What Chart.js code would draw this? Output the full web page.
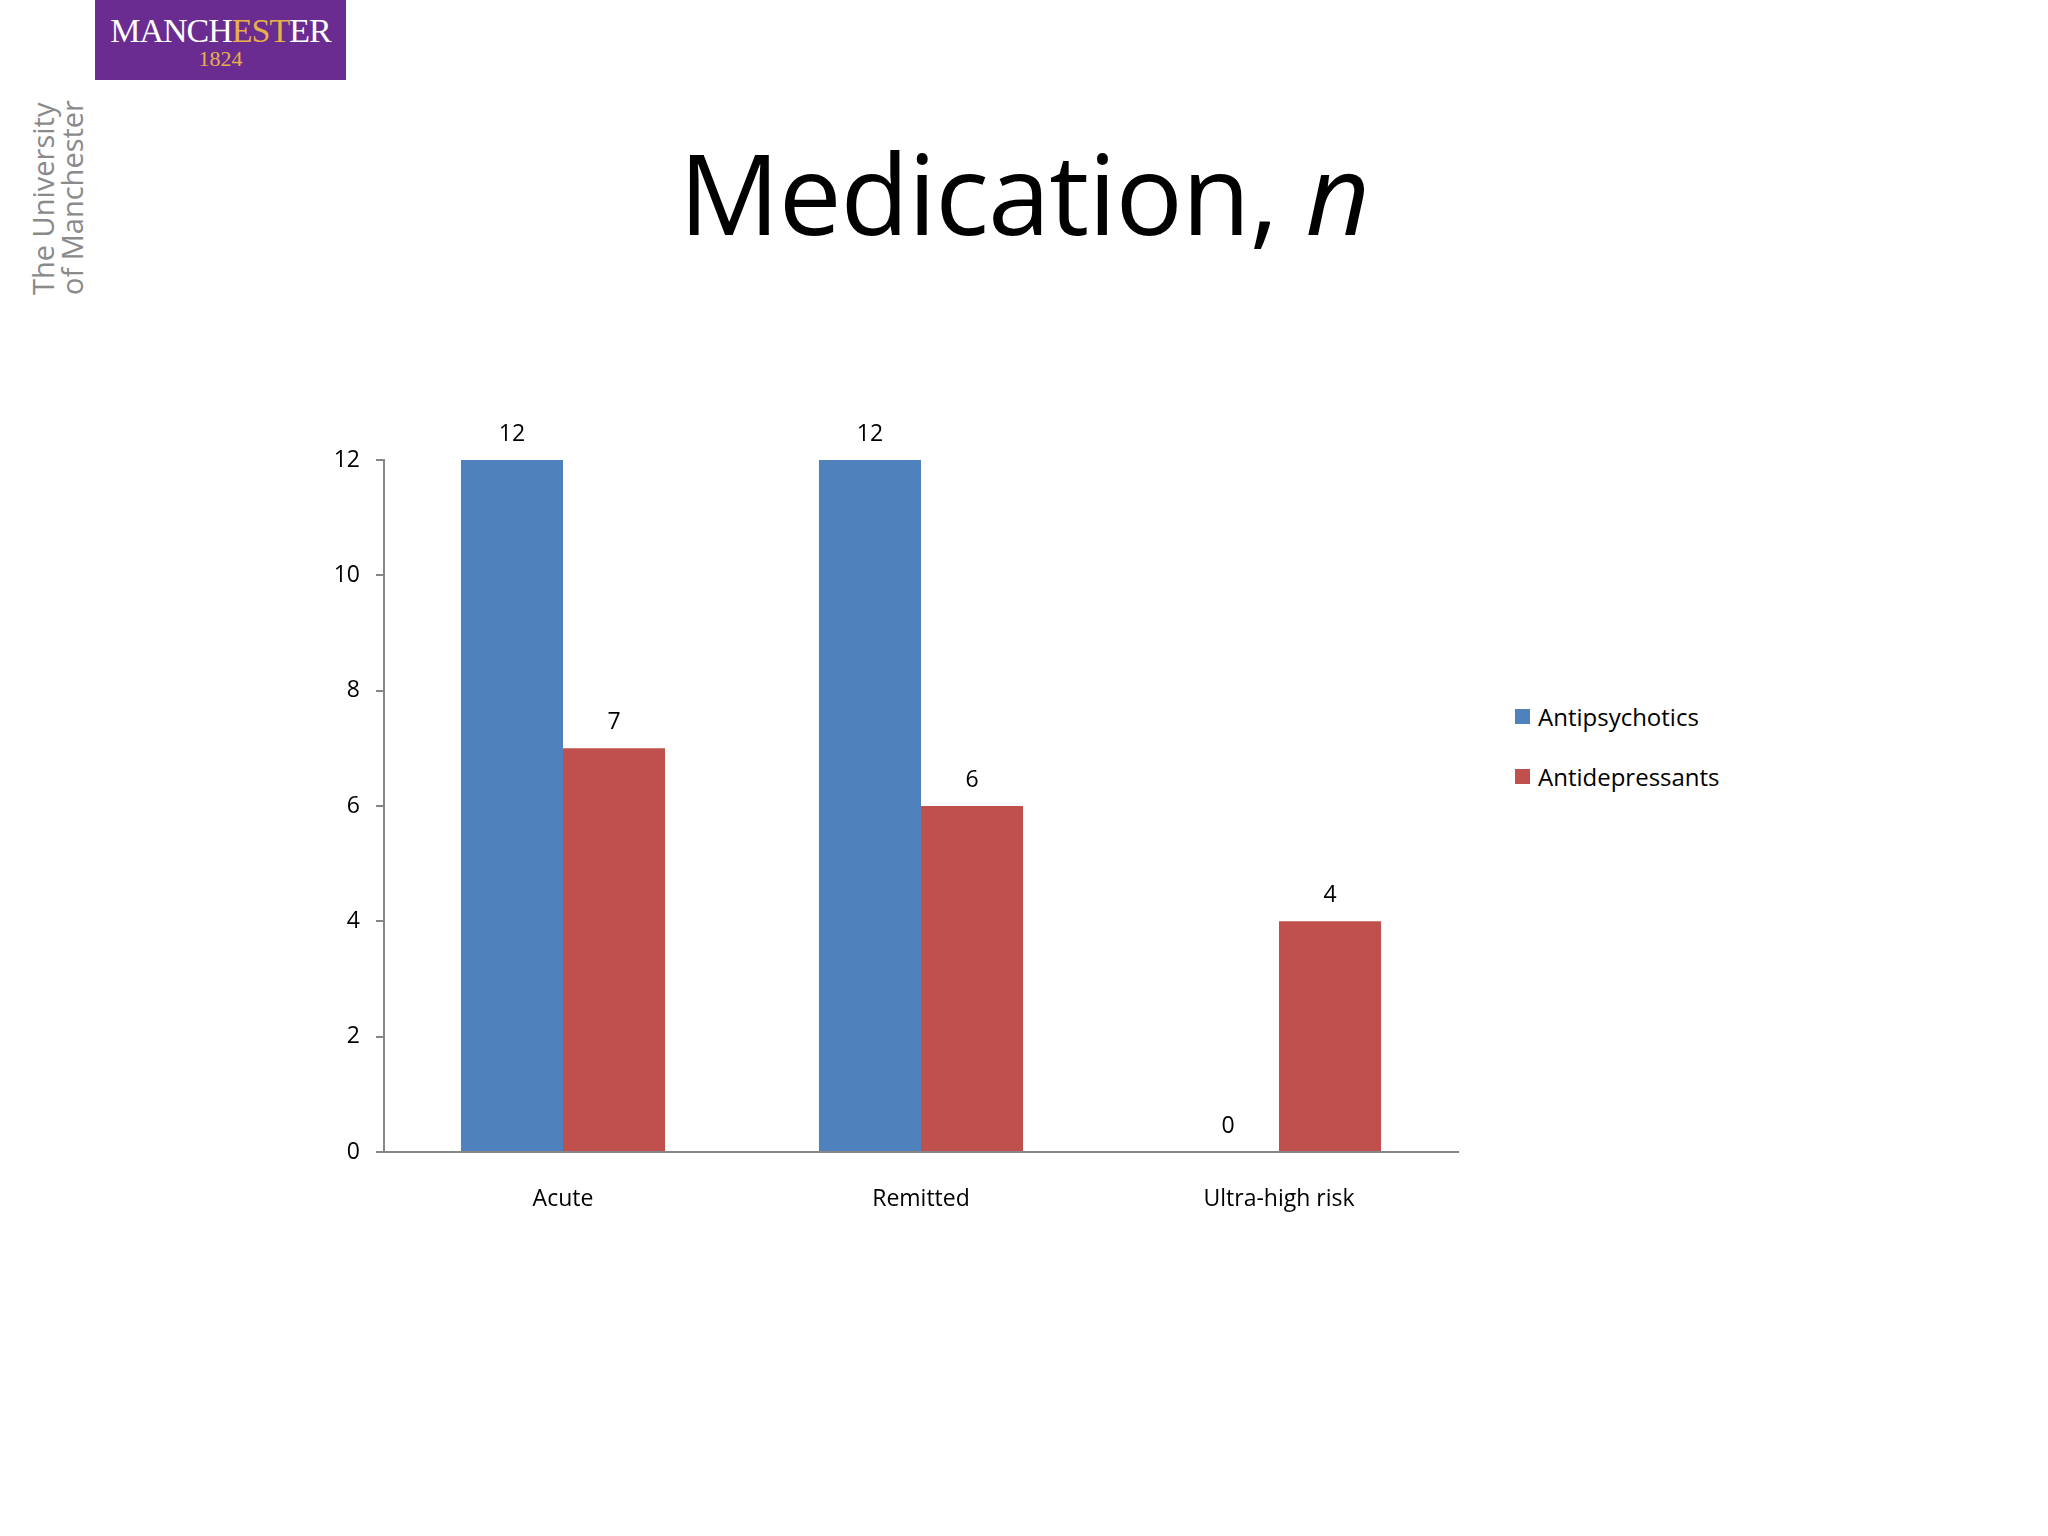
<!DOCTYPE html>
<html><head><meta charset="utf-8">
<script src="https://cdn.jsdelivr.net/npm/chart.js@4"></script>
<style>
body{margin:0;width:2048px;height:1536px;background:#fff;position:relative;overflow:hidden;font-family:"Open Sans","Noto Sans",sans-serif}
#c{position:absolute;left:0;top:0}
#logo{position:absolute;left:95px;top:0;width:251px;height:80px;background:#6a2c91;color:#fff;font-family:"Liberation Serif",serif;text-align:center}
#logo .a{font-size:34px;line-height:34px;padding-top:14px;letter-spacing:-1px}
#logo .b{font-size:22px;line-height:22px;color:#e8b04a}
#uni{position:absolute;left:28px;top:295px;transform-origin:0 0;transform:rotate(-90deg);color:#8a8a8a;font-size:29px;line-height:29px;white-space:nowrap}
#title{position:absolute;left:0;width:2048px;text-align:center;top:122px;font-size:112px;line-height:140px;color:#000;font-family:"Open Sans",sans-serif;letter-spacing:-1px}
.lg{position:absolute;left:1515px;font-size:24px;color:#000;display:flex;align-items:center}
.lg span{display:inline-block;width:15px;height:15px;margin-right:8px}
</style></head><body>
<div id="logo"><div class="a">MANCH<span style="color:#e8b04a">EST</span>ER</div><div class="b">1824</div></div>
<div id="uni">The University<br>of Manchester</div>
<div id="title">Medication, <i>n</i></div>
<div id="legend"></div>
<canvas id="c" width="2048" height="1536"></canvas>
<script>
const categories=["Acute","Remitted","Ultra-high risk"];
const antipsychotics=[12,12,0];
const antidepressants=[7,6,4];
const seriesNames=["Antipsychotics","Antidepressants"];
const colors=["#4F81BD","#C0504D"];
const yTicks=[0,2,4,6,8,10,12];

const lg=document.getElementById('legend');
seriesNames.forEach((n,i)=>{const d=document.createElement('div');d.className='lg';d.style.top=(700+i*60)+'px';d.innerHTML='<span style="background:'+colors[i]+'"></span>'+n;lg.appendChild(d);});

const labelPlugin={id:'lbl',afterDatasetsDraw(chart){const ctx=chart.ctx;ctx.save();ctx.font='23px "Open Sans", sans-serif';ctx.fillStyle='#000';ctx.textAlign='center';ctx.textBaseline='bottom';
chart.data.datasets.forEach((ds,i)=>{chart.getDatasetMeta(i).data.forEach((b,j)=>{ctx.fillText(String(ds.data[j]),b.x,b.y-14);});});ctx.restore();}};

new Chart(document.getElementById('c'),{type:'bar',
data:{labels:categories,datasets:[
{label:seriesNames[0],data:antipsychotics,backgroundColor:colors[0]},
{label:seriesNames[1],data:antidepressants,backgroundColor:colors[1]}]},
options:{responsive:false,animation:false,devicePixelRatio:1,
layout:{padding:{left:284,right:590,top:460,bottom:324}},
plugins:{legend:{display:false},tooltip:{enabled:false}},
datasets:{bar:{categoryPercentage:0.57,barPercentage:1}},
scales:{
x:{afterFit:s=>{s.height=60},grid:{display:false},border:{color:'#868686',width:2},ticks:{color:'#000',font:{size:23,family:'"Open Sans", sans-serif'},padding:26}},
y:{min:0,max:12,afterFit:s=>{s.width=100},afterBuildTicks:s=>{s.ticks=yTicks.map(v=>({value:v}))},
grid:{drawOnChartArea:false,tickLength:8,color:'#868686',lineWidth:2},border:{color:'#868686',width:2},
ticks:{color:'#000',font:{size:23,family:'"Open Sans", sans-serif'},padding:16}}}},
plugins:[labelPlugin]});
</script></body></html>
